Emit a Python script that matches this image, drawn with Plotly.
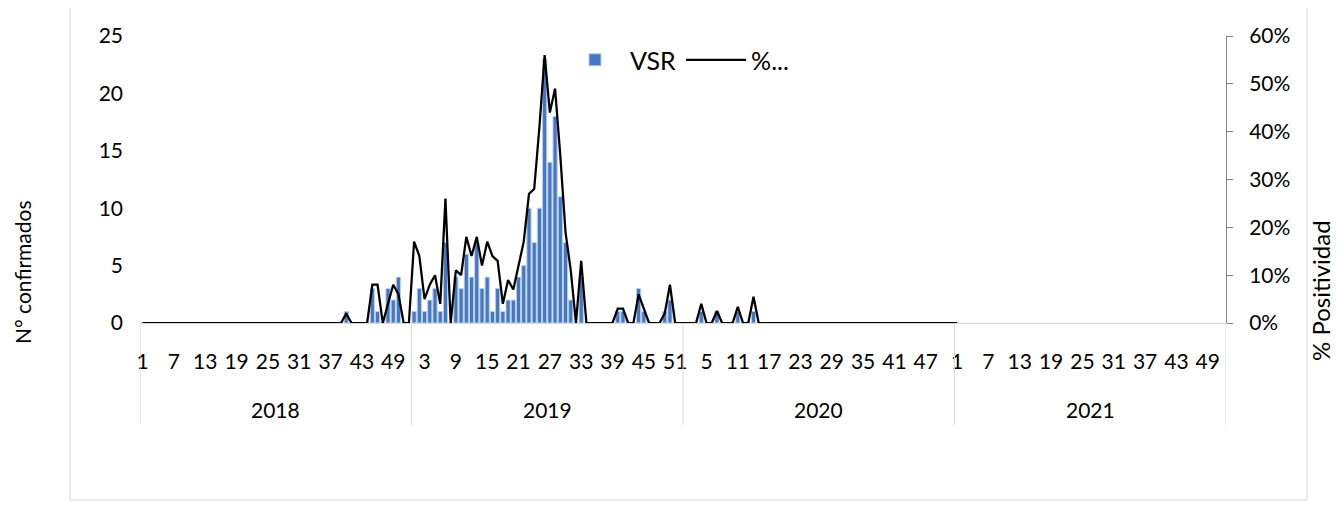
import plotly.graph_objects as go

# ---------------- data ----------------
years = ["2018", "2019", "2020", "2021"]
weeks_per_year = 52

cases_2018 = [0, 0, 0, 0, 0, 0, 0, 0, 0, 0,
              0, 0, 0, 0, 0, 0, 0, 0, 0, 0,
              0, 0, 0, 0, 0, 0, 0, 0, 0, 0,
              0, 0, 0, 0, 0, 0, 0, 0, 0, 1,
              0, 0, 0, 0, 3, 1, 0, 3, 2, 4,
              0, 0]
pct_2018 = [0, 0, 0, 0, 0, 0, 0, 0, 0, 0,
            0, 0, 0, 0, 0, 0, 0, 0, 0, 0,
            0, 0, 0, 0, 0, 0, 0, 0, 0, 0,
            0, 0, 0, 0, 0, 0, 0, 0, 0, 2,
            0, 0, 0, 0, 8, 8, 0, 4, 8, 6,
            0, 0]

cases_2019 = [1, 3, 1, 2, 3, 1, 7, 0, 4, 3,
              6, 4, 7, 3, 4, 1, 3, 1, 2, 2,
              4, 5, 10, 7, 10, 23, 14, 18, 11, 7,
              2, 0, 4, 0, 0, 0, 0, 0, 0, 1,
              1, 0, 0, 3, 1, 0, 0, 0, 1, 2,
              0, 0]
pct_2019 = [17, 14, 5, 8, 10, 4, 26, 0, 11, 10,
            18, 14, 18, 12, 17, 14, 13, 4, 9, 7,
            12, 17, 27, 28, 41, 56, 44, 49, 35, 19,
            11, 0, 13, 0, 0, 0, 0, 0, 0, 3,
            3, 0, 0, 6, 3, 0, 0, 0, 2, 8,
            0, 0]

cases_2020 = [0, 0, 0, 1, 0, 0, 1, 0, 0, 0,
              1, 0, 0, 1, 0, 0, 0, 0, 0, 0,
              0, 0, 0, 0, 0, 0, 0, 0, 0, 0,
              0, 0, 0, 0, 0, 0, 0, 0, 0, 0,
              0, 0, 0, 0, 0, 0, 0, 0, 0, 0,
              0, 0]
pct_2020 = [0, 0, 0, 4, 0, 0, 2.5, 0, 0, 0,
            3.4, 0, 0, 5.5, 0, 0, 0, 0, 0, 0,
            0, 0, 0, 0, 0, 0, 0, 0, 0, 0,
            0, 0, 0, 0, 0, 0, 0, 0, 0, 0,
            0, 0, 0, 0, 0, 0, 0, 0, 0, 0,
            0, 0]

cases_2021 = [0]
pct_2021 = [0]

week_tick_labels = ["1", "7", "13", "19", "25", "31", "37", "43", "49",
                    "3", "9", "15", "21", "27", "33", "39", "45", "51",
                    "5", "11", "17", "23", "29", "35", "41", "47",
                    "1", "7", "13", "19", "25", "31", "37", "43", "49"]

# ---------------- build series on a continuous week index ----------------
cases_by_year = [cases_2018, cases_2019, cases_2020, cases_2021]
pct_by_year = [pct_2018, pct_2019, pct_2020, pct_2021]

x_idx, cases, pct = [], [], []
for yi, (c_list, p_list) in enumerate(zip(cases_by_year, pct_by_year)):
    for wi, (c, p) in enumerate(zip(c_list, p_list)):
        x_idx.append(yi * weeks_per_year + wi)
        cases.append(c)
        pct.append(p)

n_cat = weeks_per_year * len(years)
tick_positions = list(range(0, n_cat, 6))

FONT = "Lato, 'Liberation Sans', Arial, sans-serif"

fig = go.Figure()
fig.add_trace(go.Bar(
    x=x_idx, y=cases, name="VSR", width=0.8,
    marker=dict(color="#4677C0", line=dict(color="#B8CFEA", width=1)),
    yaxis="y",
))
fig.add_trace(go.Scatter(
    x=x_idx, y=pct, name="%...", mode="lines",
    line=dict(color="#000000", width=2.25),
    yaxis="y2",
))

# page offset (body margin) and figure size
OFF = 8
FW, FH = 1340 - OFF, 510 - OFF
# plot-area geometry in page pixels
L, R, T, B = 140, 1226, 36, 323
W, H = R - L, B - T


def px_x(p):
    return (p - L) / W


def px_y(p):
    return (B - p) / H


shapes = []
# year separators of the category axis
for k in range(len(years) + 1):
    xv = k * weeks_per_year - 0.5
    shapes.append(dict(type="line", xref="x", yref="paper",
                       x0=xv, x1=xv, y0=0, y1=px_y(425),
                       line=dict(color="#D9D9D9", width=1)))
# outer chart border
shapes.append(dict(type="rect", xref="paper", yref="paper",
                   x0=px_x(70), x1=px_x(1307), y0=px_y(500), y1=px_y(7),
                   line=dict(color="#D9D9D9", width=1), fillcolor="rgba(0,0,0,0)",
                   layer="below"))

annotations = []
for yi, yr in enumerate(years):
    annotations.append(dict(
        x=yi * weeks_per_year + (weeks_per_year - 1) / 2, xref="x",
        y=px_y(409), yref="paper", text=yr, showarrow=False,
        font=dict(size=21, color="#000000", family=FONT),
        xanchor="center", yanchor="middle"))
annotations.append(dict(
    x=px_x(22), xref="paper", y=px_y(272), yref="paper",
    text="N° confirmados", textangle=-90, showarrow=False,
    font=dict(size=21, color="#000000", family=FONT),
    xanchor="center", yanchor="middle"))
annotations.append(dict(
    x=px_x(1320), xref="paper", y=px_y(290), yref="paper",
    text="% Positividad", textangle=-90, showarrow=False,
    font=dict(size=24, color="#000000", family=FONT),
    xanchor="center", yanchor="middle"))

fig.update_layout(
    width=FW, height=FH,
    margin=dict(l=L - OFF, r=FW - (R - OFF), t=T - OFF, b=FH - (B - OFF), pad=0),
    paper_bgcolor="white", plot_bgcolor="white",
    font=dict(family=FONT, size=21, color="#000000"),
    showlegend=True,
    legend=dict(orientation="h", x=px_x(560), xanchor="left",
                y=px_y(60), yanchor="middle",
                font=dict(size=25, family=FONT, color="#000000"),
                bgcolor="rgba(0,0,0,0)", itemwidth=60, tracegroupgap=0),
    xaxis=dict(
        range=[-0.5, n_cat - 0.5],
        tickmode="array", tickvals=tick_positions, ticktext=week_tick_labels,
        showgrid=False, zeroline=False,
        showline=True, linecolor="#D9D9D9", linewidth=1,
        ticks="", ticklabelstandoff=20,
        tickfont=dict(size=21, family=FONT, color="#000000"),
    ),
    yaxis=dict(
        range=[0, 25], dtick=5, tick0=0,
        showgrid=False, zeroline=False, showline=False,
        ticks="", ticklabelstandoff=16,
        tickfont=dict(size=21, family=FONT, color="#000000"),
    ),
    yaxis2=dict(
        range=[0, 60], dtick=10, tick0=0, ticksuffix="%",
        overlaying="y", side="right",
        showgrid=False, zeroline=False,
        showline=True, linecolor="#868686", linewidth=1,
        ticks="outside", ticklen=6, tickcolor="#868686",
        ticklabelstandoff=12,
        tickfont=dict(size=21, family=FONT, color="#000000"),
    ),
    shapes=shapes,
    annotations=annotations,
)

fig.write_html("out.html")
